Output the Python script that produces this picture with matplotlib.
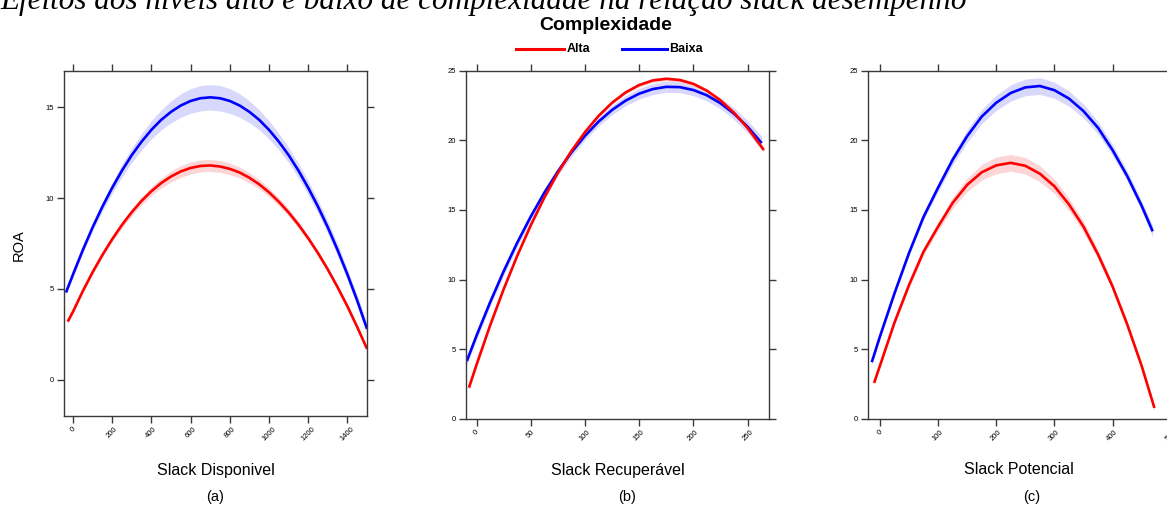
import numpy as np
import matplotlib

matplotlib.use("Agg")
import matplotlib.pyplot as plt
from matplotlib.lines import Line2D

W, H = 1167, 505
DPI = 100

# ---- data (ROA vs slack, by level of complexity) ----
# (a) Slack Disponivel
A_X_ALTA = [-27, 0, 50, 100, 150, 200, 250, 300, 350, 400, 450, 500, 550, 600, 650, 700, 750,
            800, 850, 900, 950, 1000, 1050, 1100, 1150, 1200, 1250, 1300, 1350, 1400, 1450, 1500]
A_ALTA = [3.2, 3.75, 4.88, 5.92, 6.87, 7.74, 8.53, 9.23, 9.85, 10.38, 10.83, 11.19, 11.47, 11.66,
          11.77, 11.8, 11.74, 11.61, 11.41, 11.12, 10.76, 10.32, 9.8, 9.21, 8.54, 7.79, 6.97,
          6.07, 5.09, 4.04, 2.9, 1.7]
A_ALTA_CI = [0.1, 0.1, 0.11, 0.12, 0.13, 0.15, 0.17, 0.2, 0.22, 0.25, 0.27, 0.3, 0.32, 0.33,
             0.33, 0.33, 0.33, 0.32, 0.3, 0.28, 0.26, 0.24, 0.22, 0.2, 0.18, 0.16, 0.15, 0.14,
             0.13, 0.12, 0.12, 0.12]
A_X_BAIXA = [-36, 0, 50, 100, 150, 200, 250, 300, 350, 400, 450, 500, 550, 600, 650, 700, 750,
             800, 850, 900, 950, 1000, 1050, 1100, 1150, 1200, 1250, 1300, 1350, 1400, 1450, 1500]
A_BAIXA = [4.8, 5.8, 7.14, 8.39, 9.53, 10.57, 11.52, 12.37, 13.11, 13.76, 14.31, 14.75, 15.1,
           15.35, 15.5, 15.55, 15.5, 15.35, 15.1, 14.75, 14.31, 13.76, 13.11, 12.37, 11.52,
           10.57, 9.53, 8.39, 7.14, 5.8, 4.36, 2.8]
A_BAIXA_CI = [0.15, 0.15, 0.17, 0.2, 0.25, 0.3, 0.35, 0.4, 0.45, 0.5, 0.55, 0.6, 0.65, 0.68,
              0.7, 0.7, 0.7, 0.68, 0.65, 0.6, 0.55, 0.5, 0.46, 0.42, 0.4, 0.38, 0.36, 0.35,
              0.33, 0.3, 0.3, 0.3]

# (b) Slack Recuperavel
B_X_ALTA = [-7, 0, 12.5, 25, 37.5, 50, 62.5, 75, 87.5, 100, 112.5, 125, 137.5, 150, 162.5, 175,
            187.5, 200, 212.5, 225, 237.5, 250, 265]
B_ALTA = [2.23, 3.88, 6.7, 9.3, 11.7, 13.89, 15.88, 17.66, 19.23, 20.59, 21.75, 22.7, 23.44,
          23.97, 24.3, 24.42, 24.33, 24.05, 23.56, 22.87, 21.98, 20.88, 19.3]
B_ALTA_CI = [0.15, 0.15, 0.13, 0.12, 0.1, 0.1, 0.1, 0.1, 0.1, 0.1, 0.1, 0.1, 0.12, 0.13, 0.15,
             0.15, 0.15, 0.15, 0.15, 0.15, 0.15, 0.17, 0.2]
B_X_BAIXA = [-9, 0, 12.5, 25, 37.5, 50, 62.5, 75, 87.5, 100, 112.5, 125, 137.5, 150, 162.5, 175,
             187.5, 200, 212.5, 225, 237.5, 250, 263]
B_BAIXA = [4.14, 5.97, 8.36, 10.59, 12.64, 14.52, 16.23, 17.76, 19.13, 20.32, 21.34, 22.18,
           22.85, 23.35, 23.68, 23.84, 23.82, 23.61, 23.23, 22.66, 21.91, 20.97, 19.8]
B_BAIXA_CI = [0.3, 0.3, 0.3, 0.3, 0.3, 0.3, 0.3, 0.3, 0.3, 0.3, 0.32, 0.34, 0.36, 0.38, 0.4,
              0.4, 0.4, 0.4, 0.4, 0.4, 0.42, 0.45, 0.5]

# (c) Slack Potencial
C_X_ALTA = [-10, 0, 25, 50, 75, 100, 125, 150, 175, 200, 225, 250, 275, 300, 325, 350, 375,
            400, 425, 450, 472]
C_ALTA = [2.57, 3.8, 6.9, 9.6, 12.0, 13.8, 15.5, 16.8, 17.7, 18.2, 18.38, 18.17, 17.6, 16.7,
          15.4, 13.8, 11.8, 9.5, 6.8, 3.8, 0.77]
C_ALTA_CI = [0.1, 0.1, 0.15, 0.2, 0.25, 0.3, 0.4, 0.48, 0.55, 0.6, 0.6, 0.6, 0.58, 0.52, 0.45,
             0.4, 0.33, 0.28, 0.22, 0.2, 0.2]
C_X_BAIXA = [-14, 0, 25, 50, 75, 100, 125, 150, 175, 200, 225, 250, 275, 300, 325, 350, 375,
             400, 425, 450, 469]
C_BAIXA = [4.06, 5.9, 9.0, 11.9, 14.5, 16.6, 18.6, 20.3, 21.7, 22.7, 23.4, 23.8, 23.9, 23.6,
           23.0, 22.1, 20.9, 19.3, 17.45, 15.3, 13.46]
C_BAIXA_CI = [0.15, 0.15, 0.17, 0.2, 0.25, 0.3, 0.38, 0.45, 0.5, 0.55, 0.58, 0.6, 0.6, 0.58,
              0.55, 0.5, 0.45, 0.4, 0.35, 0.35, 0.4]

A_XTICKS = [0, 200, 400, 600, 800, 1000, 1200, 1400]
A_YTICKS = [0, 5, 10, 15]
B_XTICKS = [0, 50, 100, 150, 200, 250]
C_XTICKS = [0, 100, 200, 300, 400, 500]
BC_YTICKS = [0, 5, 10, 15, 20, 25]

RED, BLUE = "#ff0000", "#0000ff"
RED_BAND, BLUE_BAND = "#fcd6d6", "#d8d8fd"
AXCOL = "#3a3a3a"

plt.rcParams["font.family"] = ["Liberation Sans", "DejaVu Sans"]

fig = plt.figure(figsize=(W / DPI, H / DPI), dpi=DPI)


def fx(px):
    return px / W


def fy(py):
    return 1 - py / H


def panel(rect, xlim, ylim, xticks, yticks, series, xlabel):
    ax = fig.add_axes(rect)
    for x, y, ci, col, band in series:
        x = np.asarray(x, float)
        y = np.asarray(y, float)
        ci = np.asarray(ci, float)
        ax.fill_between(x, y - ci, y + ci, color=band, lw=0)
    for x, y, ci, col, band in series:
        ax.plot(x, y, color=col, lw=1.9, solid_capstyle="butt")
    ax.set_xlim(*xlim)
    ax.set_ylim(*ylim)
    ax.set_xticks(xticks)
    ax.set_yticks(yticks)
    ax.tick_params(direction="out", length=5, width=1, color=AXCOL,
                   top=True, right=True, labeltop=False, labelright=False,
                   labelsize=5.5, pad=2)
    for lab in ax.get_xticklabels():
        lab.set_rotation(45)
        lab.set_ha("center")
        lab.set_va("top")
    for s in ax.spines.values():
        s.set_color(AXCOL)
        s.set_linewidth(1)
    cx = rect[0] + rect[2] / 2
    fig.text(cx, fy(470), xlabel, ha="center", va="center", fontsize=11.5)
    return ax


panel([fx(64), fy(416), fx(303), (416 - 71) / H], (-46, 1500), (-2, 17),
      A_XTICKS, A_YTICKS,
      [(A_X_BAIXA, A_BAIXA, A_BAIXA_CI, BLUE, BLUE_BAND),
       (A_X_ALTA, A_ALTA, A_ALTA_CI, RED, RED_BAND)],
      "Slack Disponivel")
panel([fx(465.7), fy(418.7), fx(303.6), 348 / H], (-10, 270), (0, 25),
      B_XTICKS, BC_YTICKS,
      [(B_X_BAIXA, B_BAIXA, B_BAIXA_CI, BLUE, BLUE_BAND),
       (B_X_ALTA, B_ALTA, B_ALTA_CI, RED, RED_BAND)],
      "Slack Recuperável")
panel([fx(867.7), fy(418.7), fx(303.3), 348 / H], (-21, 500.5), (0, 25),
      C_XTICKS, BC_YTICKS,
      [(C_X_BAIXA, C_BAIXA, C_BAIXA_CI, BLUE, BLUE_BAND),
       (C_X_ALTA, C_ALTA, C_ALTA_CI, RED, RED_BAND)],
      "Slack Potencial")

# panel tags
for label, px in [("(a)", 215), ("(b)", 627), ("(c)", 1032)]:
    fig.text(fx(px), fy(497), label, ha="center", va="center", fontsize=10.5)

fig.text(fx(19), fy(245), "ROA", rotation=90, ha="center", va="center", fontsize=10.5)

# cropped italic title at the very top
fig.text(fx(0), fy(9), "Efeitos dos níveis alto e baixo de complexidade na relação slack desempenho",
         family=["Liberation Serif", "DejaVu Serif"], style="italic", fontsize=22.4,
         ha="left", va="baseline")

# legend
fig.text(fx(606), fy(25), "Complexidade", ha="center", va="center",
         fontsize=14, fontweight="bold")
fig.add_artist(Line2D([fx(516), fx(564)], [fy(49), fy(49)], color=RED, lw=2.2))
fig.text(fx(567), fy(49), "Alta", ha="left", va="center", fontsize=9, fontweight="bold")
fig.add_artist(Line2D([fx(622), fx(667)], [fy(49), fy(49)], color=BLUE, lw=2.2))
fig.text(fx(669), fy(49), "Baixa", ha="left", va="center", fontsize=9, fontweight="bold")

fig.savefig("out.png", dpi=DPI)
